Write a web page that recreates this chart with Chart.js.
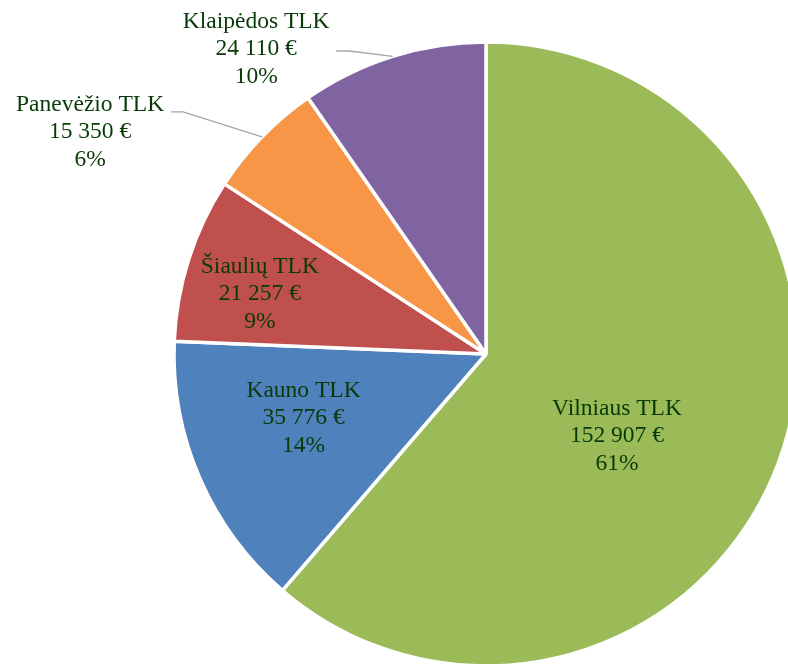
<!DOCTYPE html>
<html>
<head>
<meta charset="utf-8">
<script src="https://cdn.jsdelivr.net/npm/chart.js@4"></script>
<style>
  html, body { margin: 0; padding: 0; background: #fff; overflow: hidden; }
  #wrap { position: absolute; left: 0; top: 0; width: 974px; height: 706px; }
</style>
</head>
<body>
<div id="wrap"><canvas id="pieChart" width="974" height="706"></canvas></div>
<script>
// Data
const categories = ['Vilniaus TLK', 'Kauno TLK', 'Šiaulių TLK', 'Panevėžio TLK', 'Klaipėdos TLK'];
const amounts = [152907, 35776, 21257, 15350, 24110];
const sliceColors = ['#9BBB59', '#4F81BD', '#C0504D', '#F79646', '#8064A2'];

// Label placement: polar position of the label centre (degrees clockwise from 12 o'clock,
// fraction of radius), plus optional leader line elbow/tail offsets from the label centre
const labelPlacement = [
  { angle: 122, dist: 0.495 },
  { angle: 250.6, dist: 0.62 },
  { angle: 284.9, dist: 0.75 },
  { angle: 299.3, dist: 1.455, elbow: [93, -20], tail: [81, -20] },
  { angle: 323, dist: 1.224, elbow: [93, 2], tail: [80, 2] }
];

function fmtEur(v) {
  return String(v).replace(/\B(?=(\d{3})+(?!\d))/g, ' ') + ' €';
}

const labelPlugin = {
  id: 'sliceLabels',
  afterDatasetsDraw(chart) {
    const ctx = chart.ctx;
    const meta = chart.getDatasetMeta(0);
    const total = amounts.reduce((a, b) => a + b, 0);
    ctx.save();
    ctx.font = '23.5px "Liberation Serif", "Times New Roman", serif';
    ctx.fillStyle = '#083A08';
    ctx.textAlign = 'center';
    ctx.textBaseline = 'middle';
    meta.data.forEach((arc, i) => {
      const p = labelPlacement[i];
      const cx = arc.x, cy = arc.y, r = arc.outerRadius;
      const a = p.angle * Math.PI / 180;
      const lx = cx + Math.sin(a) * r * p.dist;
      const ly = cy - Math.cos(a) * r * p.dist;
      if (p.elbow) {
        const mid = (arc.startAngle + arc.endAngle) / 2;
        ctx.strokeStyle = '#A6A6A6';
        ctx.lineWidth = 1.3;
        ctx.beginPath();
        ctx.moveTo(cx + Math.cos(mid) * r, cy + Math.sin(mid) * r);
        ctx.lineTo(lx + p.elbow[0], ly + p.elbow[1]);
        ctx.lineTo(lx + p.tail[0], ly + p.tail[1]);
        ctx.stroke();
      }
      const pct = Math.round(amounts[i] / total * 100) + '%';
      const lines = [categories[i], fmtEur(amounts[i]), pct];
      const lh = 27.5;
      lines.forEach((t, k) => {
        ctx.fillText(t, lx, ly + (k - 1) * lh);
      });
    });
    ctx.restore();
  }
};

new Chart(document.getElementById('pieChart'), {
  type: 'pie',
  data: {
    labels: categories,
    datasets: [{
      data: amounts,
      backgroundColor: sliceColors,
      borderColor: '#ffffff',
      borderWidth: 3.5
    }]
  },
  options: {
    responsive: false,
    animation: false,
    radius: 312,
    layout: { padding: { left: 174, right: 176, top: 42, bottom: 40 } },
    plugins: {
      legend: { display: false },
      tooltip: { enabled: false }
    }
  },
  plugins: [labelPlugin]
});
</script>
</body>
</html>
